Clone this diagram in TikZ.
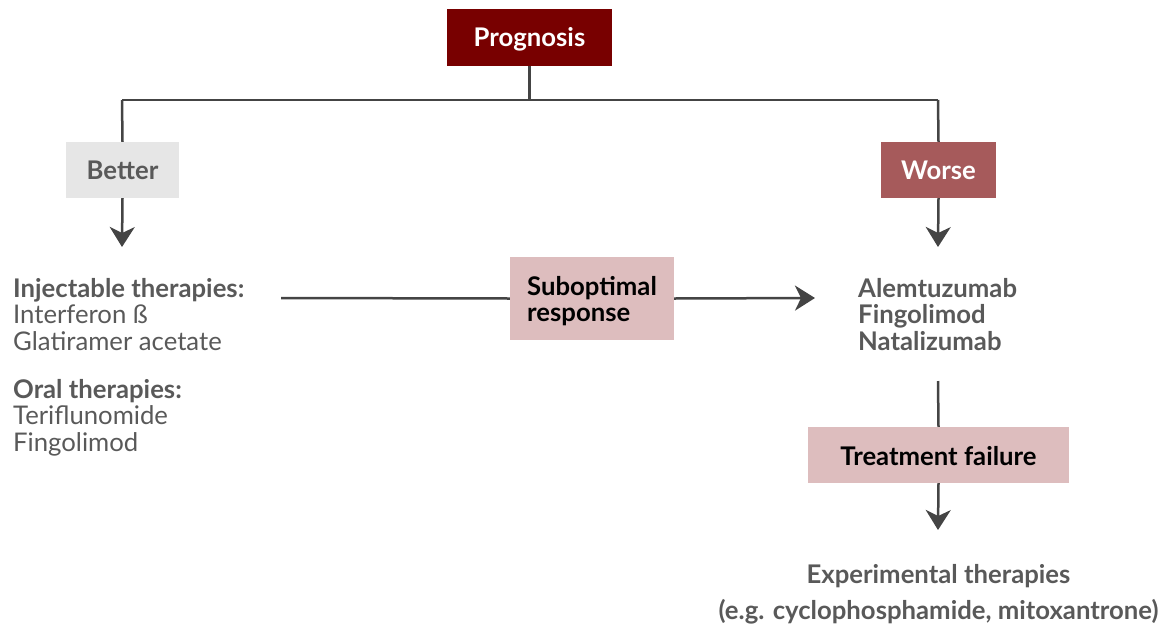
\documentclass[tikz,border=0pt]{standalone}
\usepackage{fontspec}
\setmainfont{Lato}
\usetikzlibrary{arrows.meta}
\definecolor{dred}{HTML}{780000}
\definecolor{wred}{HTML}{A65A5B}
\definecolor{pinkbox}{HTML}{DDBDBE}
\definecolor{greybox}{HTML}{E6E6E6}
\definecolor{txtgrey}{HTML}{595959}
\definecolor{linegrey}{HTML}{444444}
\newcommand{\lowerby}[2]{\raisebox{-#1}[\height][\depth]{#2}}
\tikzset{
  box/.style={rectangle, inner sep=0pt, font=\fontsize{25.7}{26.5}\selectfont\bfseries},
  conn/.style={draw=linegrey, line width=2.5pt},
  arr/.style={conn, -{Stealth[length=20pt,width=25pt,inset=6pt]}},
  txt/.style={inner sep=0pt, text=txtgrey, align=left, font=\fontsize{25.7}{26.5}\selectfont},
}
\begin{document}
\begin{tikzpicture}[x=1pt,y=-1pt]
\useasboundingbox (0,0) rectangle (1167,627);
\node[box, fill=dred, text=white, minimum width=165pt, minimum height=57pt] (prog) at (529.5,37.5) {\lowerby{1.5pt}{Prognosis}};
\node[box, fill=greybox, text=txtgrey, minimum width=113pt, minimum height=56pt] (better) at (122.5,170) {Better};
\node[box, fill=wred, text=white, minimum width=115pt, minimum height=56pt] (worse) at (938.5,170) {Worse};
\node[box, fill=pinkbox, text=black, minimum width=164pt, minimum height=83pt] (sub) at (592,298.5) {\lowerby{4.5pt}{\begin{tabular}{@{}l@{}}Suboptimal\\[-0.5pt]response\end{tabular}}};
\node[box, fill=pinkbox, text=black, minimum width=261pt, minimum height=56pt] (fail) at (938.5,455) {\lowerby{1.5pt}{Treatment failure}};
\node[txt, anchor=north west] (left) at (13,278) {\textbf{Injectable therapies:}\\Interferon ß\\Glatiramer acetate\\[21.5pt]\textbf{Oral therapies:}\\Teriflunomide\\Fingolimod};
\node[txt, anchor=north west] (right) at (858,278) {\textbf{Alemtuzumab}\\\textbf{Fingolimod}\\\textbf{Natalizumab}};
\node[txt, anchor=north, align=center, font=\fontsize{25.7}{36}\selectfont\bfseries] (exp) at (938.5,564) {Experimental therapies\\(e.g. cyclophosphamide, mitoxantrone)};
\coordinate (split) at (529.5,100);
\coordinate (bl) at (122,100);
\coordinate (wr) at (938,100);
\coordinate (ls) at (281,298);
\coordinate (re) at (815,298);
\coordinate (rb) at (938,381);
\coordinate (lt) at (122,247);
\coordinate (wt) at (938,247);
\coordinate (et) at (938,530);
\draw[conn] (prog.south) -- (split);
\draw[conn] (bl) -- (wr);
\draw[conn] (bl) -- (better.north);
\draw[conn] (wr) -- (worse.north);
\draw[arr] (better.south) -- (lt);
\draw[arr] (worse.south) -- (wt);
\draw[conn] (ls) -- (sub.west);
\draw[arr] (sub.east) -- (re);
\draw[conn] (rb) -- (fail.north);
\draw[arr] (fail.south) -- (et);
\end{tikzpicture}
\end{document}
